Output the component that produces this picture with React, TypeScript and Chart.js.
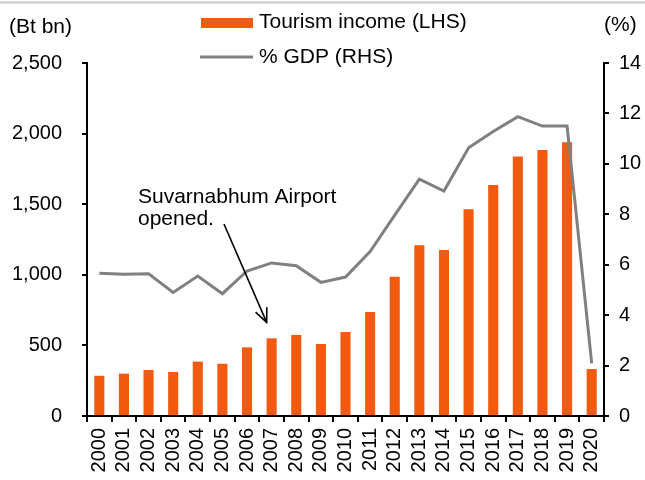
import React, { useEffect, useRef } from "react";
import { Chart, registerables } from "chart.js";

Chart.register(...registerables);

const years = ["2000","2001","2002","2003","2004","2005","2006","2007","2008","2009","2010","2011","2012","2013","2014","2015","2016","2017","2018","2019","2020"];
const tourismIncome = [285, 300, 326, 312, 385, 370, 486, 550, 574, 510, 595, 737, 987, 1209, 1176, 1464, 1636, 1838, 1884, 1938, 333];
const gdpShare = [5.66, 5.62, 5.64, 4.9, 5.55, 4.85, 5.75, 6.07, 5.96, 5.3, 5.51, 6.52, 7.97, 9.39, 8.92, 10.64, 11.28, 11.87, 11.5, 11.5, 2.09];
const leftTicks = [0, 500, 1000, 1500, 2000, 2500];
const rightTicks = [0, 2, 4, 6, 8, 10, 12, 14];

const legendBar = "Tourism income (LHS)";
const legendLine = "% GDP (RHS)";
const leftTitle = "(Bt bn)";
const rightTitle = "(%)";
const noteLines = ["Suvarnabhum Airport", "opened."];

const ORANGE = "#F15A0F";
const GREY = "#808080";
const FONT = "'Liberation Sans', Arial, sans-serif";

const decorPlugin = {
  id: "decor",
  afterDraw(chart: any) {
    const ctx = chart.ctx;
    ctx.save();
    // top border line
    ctx.strokeStyle = "#c8c8c8";
    ctx.lineWidth = 2;
    ctx.beginPath();
    ctx.moveTo(0, 2.5);
    ctx.lineTo(chart.width, 2.5);
    ctx.stroke();

    ctx.fillStyle = "#000";
    ctx.font = `21px ${FONT}`;
    ctx.textBaseline = "middle";
    ctx.textAlign = "left";
    ctx.fillText(leftTitle, 9, 27);
    ctx.fillText(rightTitle, 604, 25);

    // legend
    ctx.fillStyle = ORANGE;
    ctx.fillRect(201, 18, 52, 10);
    ctx.strokeStyle = GREY;
    ctx.lineWidth = 3;
    ctx.beginPath();
    ctx.moveTo(200, 57);
    ctx.lineTo(253, 57);
    ctx.stroke();
    ctx.fillStyle = "#000";
    ctx.fillText(legendBar, 259, 22);
    ctx.fillText(legendLine, 259, 57);

    // annotation
    ctx.fillText(noteLines[0], 138, 197);
    ctx.fillText(noteLines[1], 138, 219);

    const xs = chart.scales.x;
    const ys = chart.scales.y;
    const tipX = xs.getPixelForValue(7) - 5;
    const tipY = ys.getPixelForValue(tourismIncome[7]) - 16;
    const startX = 224;
    const startY = 224;
    ctx.strokeStyle = "#000";
    ctx.lineWidth = 1.6;
    ctx.beginPath();
    ctx.moveTo(startX, startY);
    ctx.lineTo(tipX, tipY);
    ctx.stroke();
    const ang = Math.atan2(tipY - startY, tipX - startX);
    const len = 15;
    const spread = 0.42;
    ctx.beginPath();
    ctx.moveTo(tipX - len * Math.cos(ang - spread), tipY - len * Math.sin(ang - spread));
    ctx.lineTo(tipX, tipY);
    ctx.lineTo(tipX - len * Math.cos(ang + spread), tipY - len * Math.sin(ang + spread));
    ctx.stroke();
    ctx.restore();
  },
};

export default function App() {
  const ref = useRef<HTMLCanvasElement | null>(null);

  useEffect(() => {
    document.body.style.margin = "0";
    const canvas = ref.current;
    if (!canvas) return;
    const chart = new Chart(canvas, {
      type: "bar",
      data: {
        labels: years,
        datasets: [
          {
            type: "line",
            label: legendLine,
            data: gdpShare,
            yAxisID: "y1",
            borderColor: GREY,
            borderWidth: 3,
            pointRadius: 0,
            tension: 0,
            fill: false,
          } as any,
          {
            type: "bar",
            label: legendBar,
            data: tourismIncome,
            yAxisID: "y",
            backgroundColor: ORANGE,
            borderWidth: 0,
            barPercentage: 0.41,
            categoryPercentage: 1,
          },
        ],
      },
      options: {
        responsive: false,
        animation: false,
        devicePixelRatio: 1,
        layout: { padding: { top: 63, left: 0, right: 0, bottom: 0 } },
        plugins: { legend: { display: false }, tooltip: { enabled: false }, title: { display: false } },
        scales: {
          x: {
            type: "category",
            offset: true,
            grid: { offset: true, drawOnChartArea: false, drawTicks: true, tickLength: 6, color: "#000", lineWidth: 2 },
            border: { display: true, color: "#000", width: 2 },
            ticks: {
              autoSkip: false,
              minRotation: 90,
              maxRotation: 90,
              padding: 6,
              color: "#000",
              font: { family: FONT, size: 20 },
            },
            afterFit(scale: any) { scale.height = 64; },
          },
          y: {
            position: "left",
            min: 0,
            max: 2500,
            afterBuildTicks(scale: any) { scale.ticks = leftTicks.map((v) => ({ value: v })); },
            grid: { drawOnChartArea: false, drawTicks: true, tickLength: 5, color: "#000", lineWidth: 2 },
            border: { display: true, color: "#000", width: 2 },
            ticks: {
              padding: 20,
              color: "#000",
              font: { family: FONT, size: 20 },
              callback: (v: any) => Number(v).toLocaleString("en-US"),
            },
            afterFit(scale: any) { scale.width = 87; },
          },
          y1: {
            position: "right",
            min: 0,
            max: 14,
            afterBuildTicks(scale: any) { scale.ticks = rightTicks.map((v) => ({ value: v })); },
            grid: { drawOnChartArea: false, drawTicks: true, tickLength: 5, color: "#000", lineWidth: 2 },
            border: { display: true, color: "#000", width: 2 },
            ticks: {
              padding: 10,
              color: "#000",
              font: { family: FONT, size: 20 },
              callback: (v: any) => String(v),
            },
            afterFit(scale: any) { scale.width = 41; },
          },
        },
      },
      plugins: [decorPlugin],
    });
    return () => chart.destroy();
  }, []);

  return (
    <div style={{ position: "fixed", left: 0, top: 0, width: 645, height: 480, background: "#fff" }}>
      <canvas ref={ref} width={645} height={480} style={{ width: 645, height: 480, display: "block" }} />
    </div>
  );
}
